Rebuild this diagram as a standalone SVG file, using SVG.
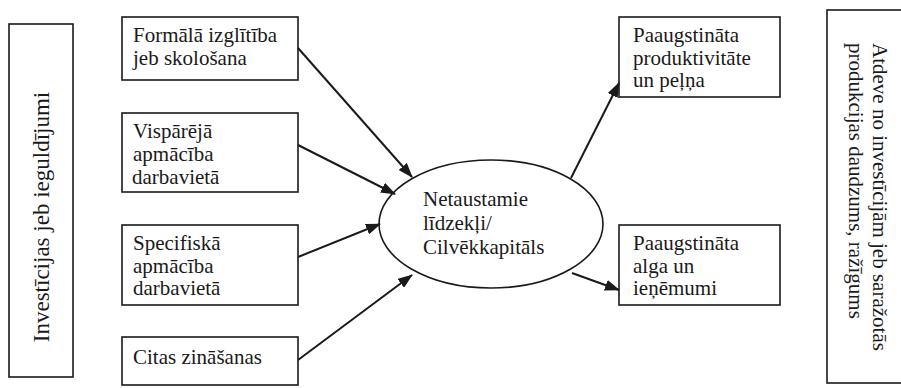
<svg xmlns="http://www.w3.org/2000/svg" width="901" height="388" viewBox="0 0 901 388">
  <defs>
    <style>
      .box { fill: #fff; stroke: #1a1a1a; stroke-width: 1.6; }
      .link { stroke: #1a1a1a; stroke-width: 2; fill: none; marker-end: url(#head); }
    </style>
    <marker id="head" viewBox="0 0 15 11" refX="14" refY="5.5" markerWidth="15" markerHeight="11" markerUnits="userSpaceOnUse" orient="auto">
      <path d="M0,0 L15,5.5 L0,11 z" fill="#1a1a1a"/>
    </marker>
  </defs>
  <rect width="901" height="388" fill="#fff"/>

  <g font-family="Liberation Serif, Times New Roman, serif" font-size="21" fill="#1a1a1a">
    <!-- side panels -->
    <g id="investicijas">
      <rect class="box" x="9" y="24" width="64" height="353"/>
      <text transform="translate(49,217) rotate(-90)" text-anchor="middle" font-size="23">Investīcijas jeb ieguldījumi</text>
    </g>
    <g id="atdeve">
      <rect class="box" x="827" y="10" width="80" height="373"/>
      <text transform="translate(873,43) rotate(90)">Atdeve no investīcijām jeb saražotās</text>
      <text transform="translate(849,43) rotate(90)">produkcijas daudzums, ražīgums</text>
    </g>

    <!-- inputs -->
    <g id="formala">
      <rect class="box" x="122" y="17" width="176" height="63"/>
      <text x="133" y="42">Formālā izglītība</text>
      <text x="133" y="65">jeb skološana</text>
    </g>
    <g id="visparejaa">
      <rect class="box" x="122" y="113" width="176" height="79"/>
      <text x="133" y="138">Vispārējā</text>
      <text x="133" y="161">apmācība</text>
      <text x="132" y="184">darbavietā</text>
    </g>
    <g id="specifiska">
      <rect class="box" x="122" y="225" width="176" height="80"/>
      <text x="133" y="250">Specifiskā</text>
      <text x="133" y="273">apmācība</text>
      <text x="133" y="295">darbavietā</text>
    </g>
    <g id="citas">
      <rect class="box" x="122" y="337" width="176" height="48"/>
      <text x="133" y="364">Citas zināšanas</text>
    </g>

    <!-- central node -->
    <g id="kapitals">
      <ellipse class="box" cx="491" cy="224" rx="112" ry="64"/>
      <text x="423" y="206">Netaustamie</text>
      <text x="423" y="230">līdzekļi/</text>
      <text x="423" y="254">Cilvēkkapitāls</text>
    </g>

    <!-- outcomes -->
    <g id="produktivitate">
      <rect class="box" x="619" y="17" width="161" height="80"/>
      <text x="633" y="42">Paaugstināta</text>
      <text x="633" y="65">produktivitāte</text>
      <text x="633" y="87">un peļņa</text>
    </g>
    <g id="alga">
      <rect class="box" x="619" y="225" width="161" height="80"/>
      <text x="633" y="250">Paaugstināta</text>
      <text x="633" y="273">alga un</text>
      <text x="633" y="295">ieņēmumi</text>
    </g>
  </g>

  <!-- connectors -->
  <g id="connectors">
    <line class="link" x1="298" y1="48" x2="412" y2="177"/>
    <line class="link" x1="298" y1="145" x2="395" y2="194"/>
    <line class="link" x1="298" y1="257" x2="380" y2="224"/>
    <line class="link" x1="298" y1="360" x2="412" y2="275"/>
    <line class="link" x1="571" y1="178" x2="619" y2="83"/>
    <line class="link" x1="572" y1="273" x2="619" y2="290"/>
  </g>
</svg>
